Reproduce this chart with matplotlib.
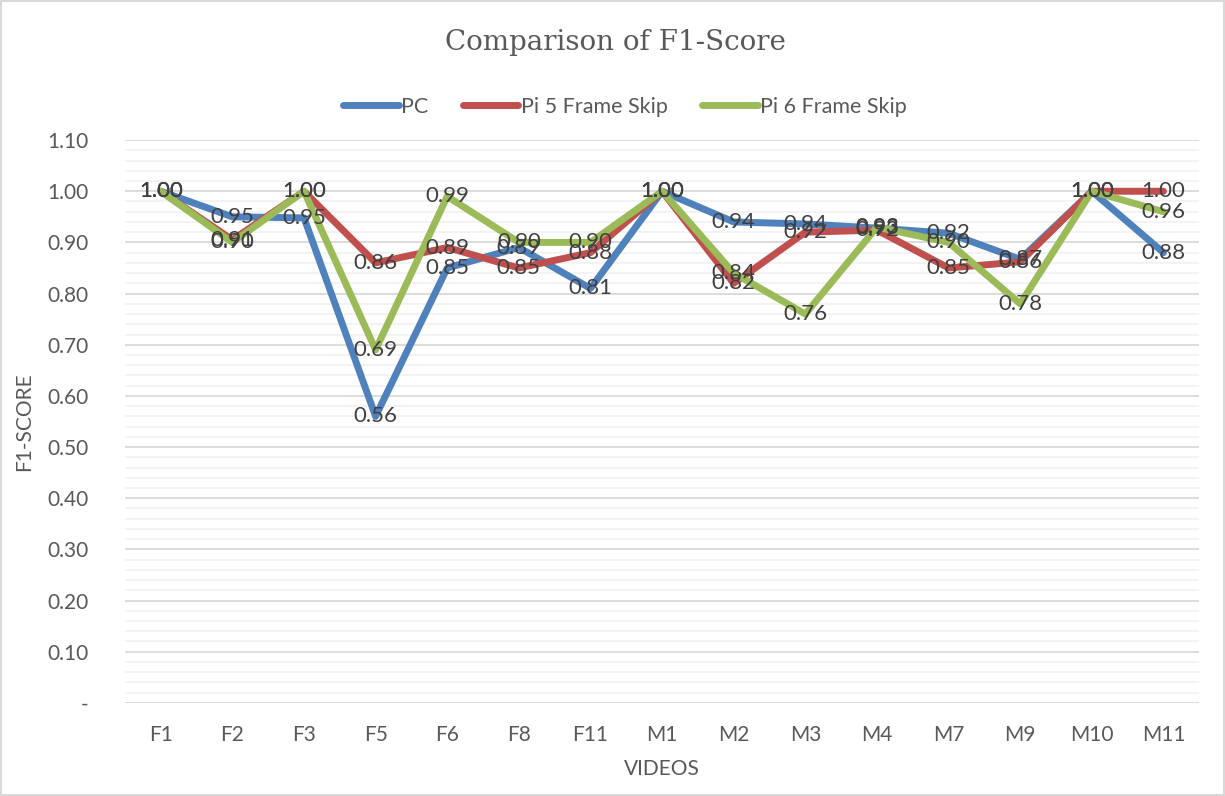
import matplotlib.pyplot as plt
from matplotlib.ticker import MultipleLocator
from matplotlib.patches import Rectangle

videos = ["F1", "F2", "F3", "F5", "F6", "F8", "F11", "M1", "M2", "M3", "M4", "M7", "M9", "M10", "M11"]
pc = [1.00, 0.95, 0.948, 0.56, 0.85, 0.89, 0.81, 1.00, 0.94, 0.936, 0.928, 0.918, 0.867, 1.00, 0.88]
pi5 = [1.00, 0.905, 1.00, 0.86, 0.89, 0.85, 0.88, 1.00, 0.82, 0.92, 0.924, 0.85, 0.862, 1.00, 1.00]
pi6 = [1.00, 0.90, 1.00, 0.69, 0.99, 0.90, 0.90, 1.00, 0.84, 0.76, 0.93, 0.90, 0.78, 1.00, 0.96]

series = [("PC", pc, "#4F81BD"), ("Pi 5 Frame Skip", pi5, "#C0504D"), ("Pi 6 Frame Skip", pi6, "#9BBB59")]

plt.rcParams['font.family'] = ['Lato', 'DejaVu Sans']
txt = "#595959"

fig = plt.figure(figsize=(12.25, 7.96), dpi=100)
fig.patches.append(Rectangle((0.001, 0.001), 0.998, 0.998, transform=fig.transFigure,
                             fill=False, edgecolor="#d9d9d9", linewidth=1.5))
ax = fig.add_axes([0.102, 0.117, 0.877, 0.707])

x = list(range(len(videos)))
for name, vals, col in series:
    ax.plot(x, vals, color=col, linewidth=5, label=name, solid_capstyle="round", zorder=3)
for name, vals, col in series:
    for xi, v in zip(x, vals):
        ax.text(xi, v, f"{v:.2f}", ha="center", va="center", fontsize=16, color="#404040", zorder=5)

ax.set_xlim(-0.5, len(videos) - 0.5)
ax.set_ylim(0, 1.10)
ax.yaxis.set_major_locator(MultipleLocator(0.1))
ax.yaxis.set_minor_locator(MultipleLocator(0.02))
ax.grid(axis="y", which="major", color="#d9d9d9", linewidth=1.3, zorder=0)
ax.grid(axis="y", which="minor", color="#f2f2f2", linewidth=1.3, zorder=0)
ax.set_axisbelow(True)
ax.set_xticks(x)
ax.set_xticklabels(videos)
yt = [round(i * 0.1, 1) for i in range(12)]
ax.set_yticks(yt)
ax.set_yticklabels(["-" if v == 0 else f"{v:.2f}" for v in yt])
ax.tick_params(axis="both", which="both", length=0, labelsize=15, colors=txt)
ax.tick_params(axis="x", pad=16)
ax.tick_params(axis="y", pad=26)
for s in ax.spines.values():
    s.set_visible(False)

ax.set_xlabel("VIDEOS", fontsize=15, color=txt, labelpad=10)
ax.set_ylabel("F1-SCORE", fontsize=15, color=txt, labelpad=10)
fig.text(0.502, 0.946, "Comparison of F1-Score", ha="center", va="center",
         fontsize=20, color=txt, family="DejaVu Serif")
fig.legend(loc="center", bbox_to_anchor=(0.51, 0.866), ncol=3, frameon=False,
           fontsize=15.5, labelcolor=txt, handlelength=2.6, columnspacing=1.6, handletextpad=0.1)

fig.savefig("out.png", dpi=100)
